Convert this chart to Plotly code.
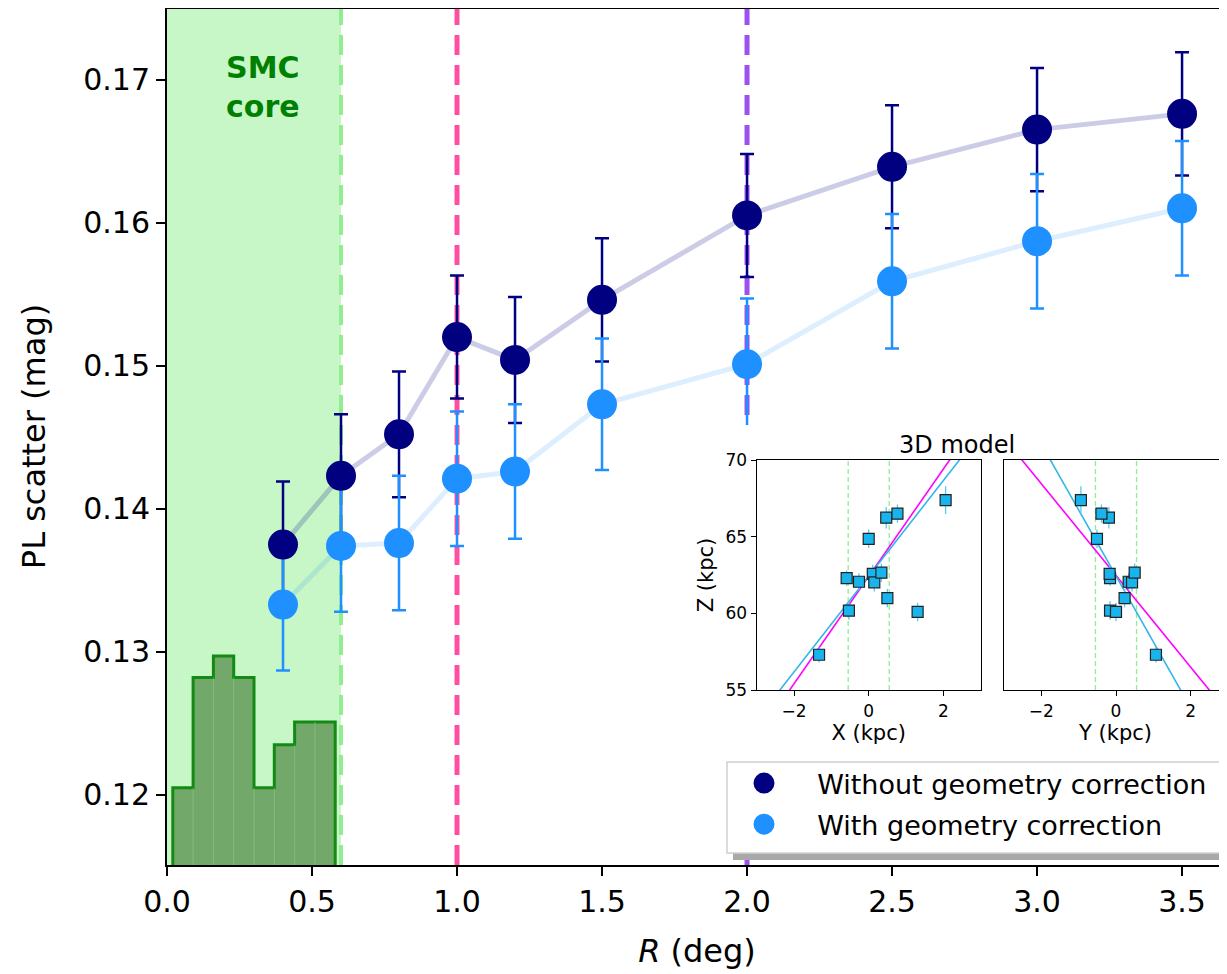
import numpy as np
import plotly.graph_objects as go

# ---------------- data ----------------
R_deg = [0.4, 0.6, 0.8, 1.0, 1.2, 1.5, 2.0, 2.5, 3.0, 3.5]
scatter_without = [0.1375, 0.1423, 0.1452, 0.1520, 0.1504, 0.1546, 0.1605, 0.1639, 0.1665, 0.1676]
err_without = [0.0044, 0.0043, 0.0044, 0.0043, 0.0044, 0.0043, 0.0043, 0.0043, 0.0043, 0.0043]
scatter_with = [0.1333, 0.1374, 0.1376, 0.1421, 0.1426, 0.1473, 0.1501, 0.1559, 0.1587, 0.1610]
err_with = [0.0046, 0.0046, 0.0047, 0.0047, 0.0047, 0.0046, 0.0046, 0.0047, 0.0047, 0.0047]

hist_edges = [0.02, 0.09, 0.16, 0.23, 0.30, 0.37, 0.44, 0.51, 0.58]
hist_heights = [0.1205, 0.1282, 0.1297, 0.1282, 0.1205, 0.1235, 0.1251, 0.1251]

core_radius = 0.6
ref_lines = [0.6, 1.0, 2.0]
ref_colors = ["#90ee90", "#ff4fa3", "#9d4ff0"]

# inset: 3D model
inset_X = [-1.33, -0.53, 1.31, -0.59, -0.26, 0.00, 0.11, 0.15, 0.34, 0.50, 0.47, 0.77, 2.06]
inset_Y = [1.07, -0.16, 0.00, -0.16, 0.34, -0.51, -0.17, 0.43, 0.50, 0.23, -0.19, -0.39, -0.94]
inset_Z = [57.30, 60.18, 60.09, 62.30, 62.06, 64.86, 62.57, 62.02, 62.65, 60.99, 66.24, 66.50, 67.38]
inset_Zerr = [0.5, 0.6, 0.6, 0.5, 0.55, 0.6, 0.6, 0.6, 0.6, 0.6, 0.7, 0.6, 0.9]
fit_X = {"magenta": (62.41, 3.50), "blue": (62.42, 3.12)}   # (intercept, slope)
fit_Y = {"magenta": (62.47, -2.99), "blue": (62.44, -4.30)}
core_box = 0.55

legend_names = ["Without geometry correction", "With geometry correction"]

X_RANGE = [0, 3.655]
Y_RANGE = [0.1151, 0.1750]

FONT = "DejaVu Sans"
NAVY = "#000080"
DODGER = "#1e90ff"
NB = "\u00a0"

# page body has an 8px margin: plot area on screen is x 167..1227, y 8..865
def px(xp):
    return (xp - 167) / 1060.0

def py(yp):
    return (865 - yp) / 857.0

fig = go.Figure()

# SMC core shading
fig.add_vrect(x0=0, x1=core_radius, fillcolor="rgba(144,238,144,0.5)", line_width=0, layer="below")

# histogram (step, filled)
hx, hy = [hist_edges[0]], [Y_RANGE[0]]
for i, h in enumerate(hist_heights):
    hx += [hist_edges[i], hist_edges[i + 1]]
    hy += [h, h]
hx.append(hist_edges[-1]); hy.append(Y_RANGE[0])
fig.add_trace(go.Scatter(x=hx, y=hy, mode="lines", fill="toself",
                         fillcolor="#72a96a", line=dict(color="#138a13", width=3),
                         showlegend=False, hoverinfo="skip"))
# faint inner bin edges
for i in range(1, len(hist_edges) - 1):
    fig.add_trace(go.Scatter(x=[hist_edges[i], hist_edges[i]],
                             y=[Y_RANGE[0], min(hist_heights[i - 1], hist_heights[i])],
                             mode="lines", line=dict(color="rgba(150,210,140,0.5)", width=1),
                             showlegend=False, hoverinfo="skip"))

# vertical reference lines
for v, c in zip(ref_lines, ref_colors):
    fig.add_trace(go.Scatter(x=[v, v], y=Y_RANGE, mode="lines",
                             line=dict(color=c, width=5 if v > 0.7 else 4, dash="20px,10px"),
                             showlegend=False, hoverinfo="skip"))

# connecting lines
fig.add_trace(go.Scatter(x=R_deg, y=scatter_without, mode="lines",
                         line=dict(color="rgba(0,0,128,0.2)", width=5),
                         showlegend=False, hoverinfo="skip"))
fig.add_trace(go.Scatter(x=R_deg, y=scatter_with, mode="lines",
                         line=dict(color="rgba(30,144,255,0.15)", width=5),
                         showlegend=False, hoverinfo="skip"))

# error bars
for ys, es, c in [(scatter_without, err_without, NAVY), (scatter_with, err_with, DODGER)]:
    fig.add_trace(go.Scatter(x=R_deg, y=ys, mode="markers",
                             marker=dict(size=1, color="rgba(0,0,0,0)"),
                             error_y=dict(type="data", array=es, color=c, thickness=2.5, width=7),
                             showlegend=False, hoverinfo="skip"))

# markers
fig.add_trace(go.Scatter(x=R_deg, y=scatter_without, mode="markers",
                         marker=dict(size=25, color=NAVY, line=dict(color=NAVY, width=5)),
                         name=NB * 2 + legend_names[0], legendgroup="a"))
fig.add_trace(go.Scatter(x=R_deg, y=scatter_with, mode="markers",
                         marker=dict(size=25, color=DODGER, line=dict(color=DODGER, width=5)),
                         name=NB * 2 + legend_names[1], legendgroup="b"))

# white box behind inset (own subplot so it hides the main plot beneath)
fig.add_trace(go.Scatter(x=[], y=[], xaxis="x2", yaxis="y2", showlegend=False, hoverinfo="skip"))

# inset panels
xx = np.linspace(-3, 3, 50)
for axx, axy, coord, fits in [("x3", "y3", inset_X, fit_X), ("x4", "y4", inset_Y, fit_Y)]:
    for v in (-core_box, core_box):
        fig.add_trace(go.Scatter(x=[v, v], y=[55, 70], xaxis=axx, yaxis=axy, mode="lines",
                                 line=dict(color="#90ee90", width=1.3, dash="5px,3px"),
                                 showlegend=False, hoverinfo="skip"))
    for name, col in [("magenta", "#ff00ff"), ("blue", "#33b5e8")]:
        z0, s = fits[name]
        fig.add_trace(go.Scatter(x=xx, y=z0 + s * xx, xaxis=axx, yaxis=axy, mode="lines",
                                 line=dict(color=col, width=1.6),
                                 showlegend=False, hoverinfo="skip"))
    fig.add_trace(go.Scatter(x=coord, y=inset_Z, xaxis=axx, yaxis=axy, mode="markers",
                             marker=dict(symbol="square", size=11, color="#18b4ee",
                                         line=dict(color="#222222", width=1.2)),
                             error_y=dict(type="data", array=inset_Zerr, color="#5cc8f5",
                                          thickness=1.3, width=0),
                             showlegend=False, hoverinfo="skip"))

tickfont = dict(family=FONT, size=30, color="black")
inset_tick = dict(family=FONT, size=17, color="black")
inset_lab = dict(family=FONT, size=21, color="black")
fig.update_layout(
    width=1219, height=966,
    margin=dict(l=159, r=0, t=0, b=109, autoexpand=False),
    paper_bgcolor="white", plot_bgcolor="white",
    font=dict(family=FONT, color="black"),
    xaxis=dict(domain=[0, 1], range=X_RANGE, tick0=0, dtick=0.5, tickformat=".1f",
               showline=True, linecolor="black", linewidth=2, mirror=False,
               ticks="outside", ticklen=9, tickwidth=1.8, tickcolor="black",
               showgrid=False, zeroline=False, tickfont=tickfont,
               title=dict(text="<i>R</i> (deg)", font=dict(family=FONT, size=32), standoff=22)),
    yaxis=dict(domain=[0, 1], range=Y_RANGE, dtick=0.01, tick0=0.12, tickformat=".2f",
               showline=True, linecolor="black", linewidth=2, mirror=False,
               ticks="outside", ticklen=9, tickwidth=1.8, tickcolor="black",
               showgrid=False, zeroline=False, tickfont=tickfont,
               title=dict(text="PL scatter (mag)", font=dict(family=FONT, size=32), standoff=28)),
    xaxis2=dict(domain=[px(680), 1.0], range=[0, 1], anchor="y2", showline=False, showgrid=False,
                zeroline=False, showticklabels=False, ticks=""),
    yaxis2=dict(domain=[py(764), py(425)], range=[0, 1], anchor="x2", showline=False, showgrid=False,
                zeroline=False, showticklabels=False, ticks=""),
    xaxis3=dict(domain=[px(756.7), px(980.7)], range=[-3, 3], anchor="y3", dtick=2, tick0=0,
                showline=True, linecolor="black", linewidth=1.3, mirror=True,
                ticks="outside", ticklen=5, tickcolor="black", showgrid=False, zeroline=False,
                tickfont=inset_tick,
                title=dict(text="X (kpc)", font=inset_lab, standoff=4)),
    yaxis3=dict(domain=[py(690), py(460)], range=[55, 70], anchor="x3", dtick=5,
                showline=True, linecolor="black", linewidth=1.3, mirror=True,
                ticks="outside", ticklen=5, tickcolor="black", showgrid=False, zeroline=False,
                tickfont=inset_tick,
                title=dict(text="Z (kpc)", font=inset_lab, standoff=6)),
    xaxis4=dict(domain=[px(1004), 1.0], range=[-3, 3 - (1228 - 1227) / 37.33], anchor="y4", dtick=2, tick0=0,
                showline=True, linecolor="black", linewidth=1.3, mirror=True,
                ticks="outside", ticklen=5, tickcolor="black", showgrid=False, zeroline=False,
                tickfont=inset_tick,
                title=dict(text="Y (kpc)", font=inset_lab, standoff=4)),
    yaxis4=dict(domain=[py(690), py(460)], range=[55, 70], anchor="x4", dtick=5,
                showline=True, linecolor="black", linewidth=1.3, mirror=False,
                ticks="", showticklabels=False, showgrid=False, zeroline=False),
    legend=dict(x=px(728), y=py(759), xanchor="left", yanchor="top",
                bgcolor="rgba(0,0,0,0)", borderwidth=0,
                font=dict(family=FONT, size=27), itemsizing="trace",
                tracegroupgap=3, itemwidth=62),
    showlegend=True,
)

# top spine
fig.add_shape(type="line", xref="paper", yref="paper", x0=0, x1=1, y0=1, y1=1,
              line=dict(color="black", width=2), layer="above")
# legend shadow + frame
fig.add_shape(type="rect", xref="paper", yref="paper", x0=px(733), x1=1.02, y0=py(860), y1=py(768),
              fillcolor="#a8a8a8", line_width=0, layer="above")
fig.add_shape(type="rect", xref="paper", yref="paper", x0=px(727), x1=1.02, y0=py(853), y1=py(762),
              fillcolor="white", line=dict(color="#d0d0d0", width=1.5), layer="above")

fig.add_annotation(text="<b>SMC<br>core</b>", x=core_radius / 2 + 0.03, y=0.1695, xref="x", yref="y",
                   showarrow=False, font=dict(family=FONT, size=30, color="#008000"))
fig.add_annotation(text="3D model", x=px(957), y=py(445), xref="paper", yref="paper",
                   xanchor="center", yanchor="middle",
                   showarrow=False, font=dict(family=FONT, size=24, color="black"))

fig.write_html("out.html")
